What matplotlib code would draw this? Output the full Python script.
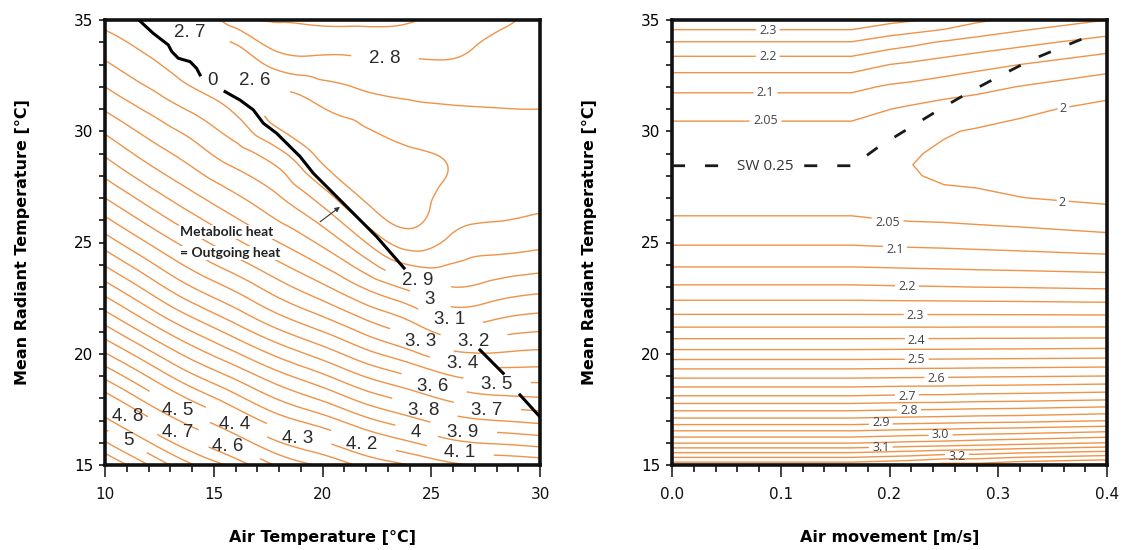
import numpy as np
import matplotlib
matplotlib.use("Agg")
import matplotlib.pyplot as plt
import matplotlib.tri as mtri
from matplotlib import font_manager as fm
from matplotlib.ticker import MultipleLocator

# ---------------- data: left panel (air temperature vs MRT) ----------------
air_temp_nodes = [10, 12, 14, 16, 18, 20, 22, 24, 26, 28, 30]
mrt_nodes_left = [15, 17, 19, 21, 23, 25, 27, 29, 31, 33, 35]
# value read at each (MRT row, air-temperature column)
exergy_left = [
    [5.300, 5.100, 4.909, 4.760, 4.582, 4.482, 4.373, 4.300, 4.220, 4.189, 4.167],
    [4.927, 4.727, 4.550, 4.392, 4.243, 4.146, 4.027, 3.933, 3.842, 3.800, 3.775],
    [4.575, 4.392, 4.217, 4.075, 3.933, 3.817, 3.692, 3.600, 3.500, 3.459, 3.457],
    [4.246, 4.067, 3.900, 3.754, 3.614, 3.500, 3.377, 3.269, 3.156, 3.170, 3.200],
    [3.938, 3.764, 3.600, 3.473, 3.338, 3.219, 3.086, 2.971, 2.900, 2.935, 2.967],
    [3.653, 3.494, 3.350, 3.221, 3.100, 2.978, 2.800, 2.655, 2.727, 2.757, 2.775],
    [3.400, 3.258, 3.130, 3.019, 2.909, 2.756, 2.585, 2.565, 2.630, 2.660, 2.675],
    [3.185, 3.057, 2.950, 2.843, 2.727, 2.570, 2.550, 2.590, 2.610, 2.640, 2.650],
    [2.991, 2.883, 2.785, 2.680, 2.560, 2.595, 2.650, 2.679, 2.690, 2.698, 2.700],
    [2.815, 2.723, 2.640, 2.625, 2.736, 2.763, 2.778, 2.784, 2.790, 2.762, 2.750],
    [2.670, 2.640, 2.670, 2.860, 2.905, 2.920, 2.920, 2.910, 2.850, 2.815, 2.780],
]
left_levels = [2.6, 2.7, 2.8, 2.9, 3.0, 3.1, 3.2, 3.3, 3.4, 3.5, 3.6, 3.7, 3.8,
               3.9, 4.0, 4.1, 4.2, 4.3, 4.4, 4.5, 4.6, 4.7, 4.8, 4.9, 5.0,
               5.1, 5.2, 5.3]
left_label_x = [13.91, 22.87, 16.90, 24.39, 24.94, 25.86, 24.53, 26.97, 26.46,
                25.08, 28.02, 24.67, 27.56, 24.30, 26.46, 26.32, 21.82, 18.87,
                15.98, 15.66, 13.36, 13.36, 11.06, 11.06]
left_label_y = [34.46, 33.29, 32.30, 23.31, 22.42, 21.52, 20.53, 20.53, 19.58,
                18.51, 18.60, 17.47, 17.47, 16.44, 16.48, 15.54, 15.90, 16.21,
                16.80, 15.81, 17.47, 16.48, 17.16, 16.08]

# "Metabolic heat = Outgoing heat" line (visible pieces, NaN = gap)
balance_a_x = [11.61, 12.22, 12.91, 13.07, 13.37, 13.91, 14.21, 14.37]
balance_a_y = [34.95, 34.40, 33.88, 33.58, 33.28, 33.13, 32.83, 32.53]
balance_b_x = [15.52, 16.21, 16.82, 17.28, 17.89, 18.97, 19.58, 20.50, 21.42, 22.49, 23.75]
balance_b_y = [31.78, 31.40, 30.96, 30.36, 29.91, 28.86, 28.11, 27.21, 26.31, 25.26, 23.85]
balance_c_x = [27.24, 28.31, np.nan, 29.08, 30.00]
balance_c_y = [20.17, 19.12, np.nan, 18.15, 17.16]

# ---------------- data: right panel (air movement vs MRT) ----------------
air_speed_nodes = [0.0, 0.165, 0.2, 0.22, 0.25, 0.28, 0.32, 0.4]
mrt_nodes_right = [15, 16, 17, 18, 19, 20, 21, 22, 23, 24, 25, 26, 27, 28, 28.5,
                   29, 30, 31, 32, 33, 34, 35]
exergy_right = [
    [3.280, 3.280, 3.292, 3.299, 3.320, 3.319, 3.340, 3.360],
    [3.046, 3.046, 3.054, 3.059, 3.064, 3.072, 3.081, 3.100],
    [2.867, 2.867, 2.872, 2.874, 2.878, 2.882, 2.885, 2.898],
    [2.714, 2.714, 2.718, 2.720, 2.721, 2.726, 2.729, 2.738],
    [2.588, 2.588, 2.590, 2.591, 2.592, 2.594, 2.596, 2.600],
    [2.469, 2.469, 2.470, 2.4706, 2.471, 2.472, 2.473, 2.476],
    [2.367, 2.367, 2.367, 2.3675, 2.367, 2.368, 2.368, 2.369],
    [2.280, 2.280, 2.2795, 2.279, 2.279, 2.2785, 2.278, 2.276],
    [2.206, 2.206, 2.204, 2.203, 2.2015, 2.1996, 2.198, 2.193],
    [2.144, 2.144, 2.1415, 2.140, 2.138, 2.1357, 2.133, 2.127],
    [2.094, 2.094, 2.0904, 2.089, 2.087, 2.084, 2.080, 2.070],
    [2.055, 2.055, 2.0505, 2.048, 2.046, 2.042, 2.037, 2.025],
    [2.030, 2.030, 2.024, 2.020, 2.012, 2.009, 2.001, 1.990],
    [2.013, 2.013, 2.006, 2.004, 1.992, 1.989, 1.982, 1.970],
    [2.012, 2.012, 2.004, 2.0005, 1.9905, 1.985, 1.978, 1.963],
    [2.015, 2.015, 2.005, 2.004, 1.993, 1.985, 1.976, 1.960],
    [2.035, 2.035, 2.022, 2.016, 2.004, 1.996, 1.985, 1.970],
    [2.068, 2.068, 2.0508, 2.042, 2.030, 2.024, 2.011, 1.985],
    [2.112, 2.112, 2.094, 2.088, 2.076, 2.064, 2.0485, 2.023],
    [2.172, 2.172, 2.150, 2.142, 2.129, 2.116, 2.100, 2.069],
    [2.248, 2.248, 2.224, 2.213, 2.195, 2.181, 2.164, 2.131],
    [2.340, 2.340, 2.315, 2.305, 2.290, 2.260, 2.235, 2.200],
]
right_levels = [2.0, 2.05, 2.1, 2.15, 2.2, 2.25, 2.3, 2.35, 2.4, 2.45, 2.5, 2.55,
                2.6, 2.65, 2.7, 2.75, 2.8, 2.85, 2.9, 2.95, 3.0, 3.05, 3.1,
                3.15, 3.2, 3.25, 3.3, 3.35]
right_label_x = [0.088, 0.088, 0.086, 0.086, 0.360, 0.359, 0.198, 0.205, 0.216,
                 0.224, 0.225, 0.225, 0.243, 0.216, 0.218, 0.192, 0.247, 0.192, 0.262]
right_label_y = [34.55, 33.34, 31.76, 30.50, 31.04, 26.78, 25.90, 24.70, 23.00,
                 21.70, 20.60, 19.72, 18.87, 18.10, 17.43, 16.89, 16.39, 15.80, 15.40]

sw_x = [0.0, 0.166, 0.19, 0.22, 0.25, 0.275, 0.30, 0.33, 0.357, 0.39]
sw_y = [28.45, 28.45, 29.3, 30.2, 31.1, 31.8, 32.45, 33.2, 33.75, 34.4]

# ---------------- style ----------------
ORANGE = "#EE9348"
TXT = "#2b2b2b"
names = {f.name for f in fm.fontManager.ttflist}
LAB_FONT = "Liberation Sans Narrow" if "Liberation Sans Narrow" in names else "Liberation Sans"
SMALL_FONT = "Open Sans" if "Open Sans" in names else "DejaVu Sans"
NOTE_FONT = "Lato" if "Lato" in names else "DejaVu Sans"

plt.rcParams["font.family"] = ["DejaVu Sans"]

fig = plt.figure(figsize=(11.32, 5.5), dpi=100)
axL = fig.add_axes([105 / 1132, 85 / 550, 435 / 1132, 445 / 550])
axR = fig.add_axes([672 / 1132, 85 / 550, 435 / 1132, 445 / 550])

# ---- left panel ----
XL, YL = np.meshgrid(air_temp_nodes, mrt_nodes_left)
triL = mtri.Triangulation(XL.ravel().astype(float), YL.ravel().astype(float))
refiner = mtri.UniformTriRefiner(triL)
tri_f, z_f = refiner.refine_field(np.asarray(exergy_left, float).ravel(), subdiv=4)
csL = axL.tricontour(tri_f, z_f, levels=left_levels, colors=ORANGE, linewidths=1.0)
axL.set_xlim(10, 30)
axL.set_ylim(15, 35)

def fmt_left(v):
    s = f"{v:.1f}"
    if s.endswith(".0"):
        return s[:-2]
    return s.replace(".", ". ")

left_pos = list(zip(left_label_x, left_label_y))
labsL = axL.clabel(csL, inline=True, inline_spacing=16, fmt=fmt_left,
                   manual=left_pos, fontsize=13.5)
for t, p in zip(labsL, left_pos):
    t.set_rotation(0)
    t.set_position(p)
    t.set_color(TXT)
    t.set_fontfamily([LAB_FONT, "DejaVu Sans"])

for bx, by in ((balance_a_x, balance_a_y), (balance_b_x, balance_b_y),
               (balance_c_x, balance_c_y)):
    axL.plot(bx, by, color="black", lw=2.2, zorder=4)
axL.text(14.92, 32.3, "0", ha="center", va="center", fontsize=13.5, color=TXT,
         family=[LAB_FONT, "DejaVu Sans"], zorder=6,
         bbox=dict(boxstyle="square,pad=0.15", fc="white", ec="none"))

axL.text(13.45, 25.47, "Metabolic heat", ha="left", va="center", fontsize=10,
         fontweight="bold", family=NOTE_FONT, color="#222222", zorder=6,
         bbox=dict(boxstyle="square,pad=0.1", fc="white", ec="none"))
axL.text(13.45, 24.53, "= Outgoing heat", ha="left", va="center", fontsize=10,
         fontweight="bold", family=NOTE_FONT, color="#222222", zorder=6,
         bbox=dict(boxstyle="square,pad=0.1", fc="white", ec="none"))
axL.annotate("", xy=(20.8, 26.6), xytext=(19.89, 25.93),
             arrowprops=dict(arrowstyle="-|>", lw=0.8, color="#333333",
                             mutation_scale=7, shrinkA=0, shrinkB=0), zorder=6)

axL.set_xticks([10, 15, 20, 25, 30])
axL.set_yticks([15, 20, 25, 30, 35])
axL.xaxis.set_minor_locator(MultipleLocator(1))
axL.yaxis.set_minor_locator(MultipleLocator(1))
axL.set_xlabel("Air Temperature [°C]", fontsize=11.5, fontweight="bold")
axL.set_ylabel("Mean Radiant Temperature [°C]", fontsize=11.5, fontweight="bold")

# ---- right panel ----
XR, YR = np.meshgrid(air_speed_nodes, mrt_nodes_right)
csR = axR.contour(XR, YR, np.asarray(exergy_right, float), levels=right_levels,
                  colors=ORANGE, linewidths=1.0)
axR.set_xlim(0, 0.4)
axR.set_ylim(15, 35)

def fmt_right(v):
    r = round(float(v), 2)
    if abs(r - 2.0) < 1e-9:
        return "2"
    if abs(r * 10 - round(r * 10)) < 1e-6:
        return f"{r:.1f}"
    return f"{r:.2f}"

right_pos = list(zip(right_label_x, right_label_y))
labsR = axR.clabel(csR, inline=True, inline_spacing=2, fmt=fmt_right,
                   manual=right_pos, fontsize=9)
for t, p in zip(labsR, right_pos):
    t.set_rotation(0)
    t.set_position(p)
    t.set_color("#444444")
    t.set_fontfamily(SMALL_FONT)

axR.plot(sw_x, sw_y, color="#1a1a1a", lw=2.0, linestyle=(0, (4.7, 7.2)), zorder=4)
axR.text(0.0855, 28.42, "SW 0.25", ha="center", va="center", fontsize=11,
         color="#333333", family=SMALL_FONT, zorder=6,
         bbox=dict(boxstyle="square,pad=0.25", fc="white", ec="none"))

axR.set_xticks([0.0, 0.1, 0.2, 0.3, 0.4])
axR.set_xticklabels(["0.0", "0.1", "0.2", "0.3", "0.4"])
axR.set_yticks([15, 20, 25, 30, 35])
axR.xaxis.set_minor_locator(MultipleLocator(0.02))
axR.yaxis.set_minor_locator(MultipleLocator(1))
axR.set_xlabel("Air movement [m/s]", fontsize=11.5, fontweight="bold")
axR.set_ylabel("Mean Radiant Temperature [°C]", fontsize=11.5, fontweight="bold")

for ax in (axL, axR):
    for s in ax.spines.values():
        s.set_linewidth(2.6)
        s.set_color("#111111")
    ax.tick_params(axis="x", which="major", direction="out", length=8.5, width=1.1,
                   labelsize=11, pad=7, colors="#111111")
    ax.tick_params(axis="x", which="minor", direction="out", length=5, width=1.1)
    ax.tick_params(axis="y", which="both", direction="out", length=4.5, width=1.1)
    ax.tick_params(axis="y", which="major", labelsize=11, pad=4)
    ax.xaxis.set_label_coords(0.5, -0.146)
    ax.yaxis.set_label_coords(-0.172, 0.5)

fig.savefig("out.png", dpi=100, facecolor="white")
